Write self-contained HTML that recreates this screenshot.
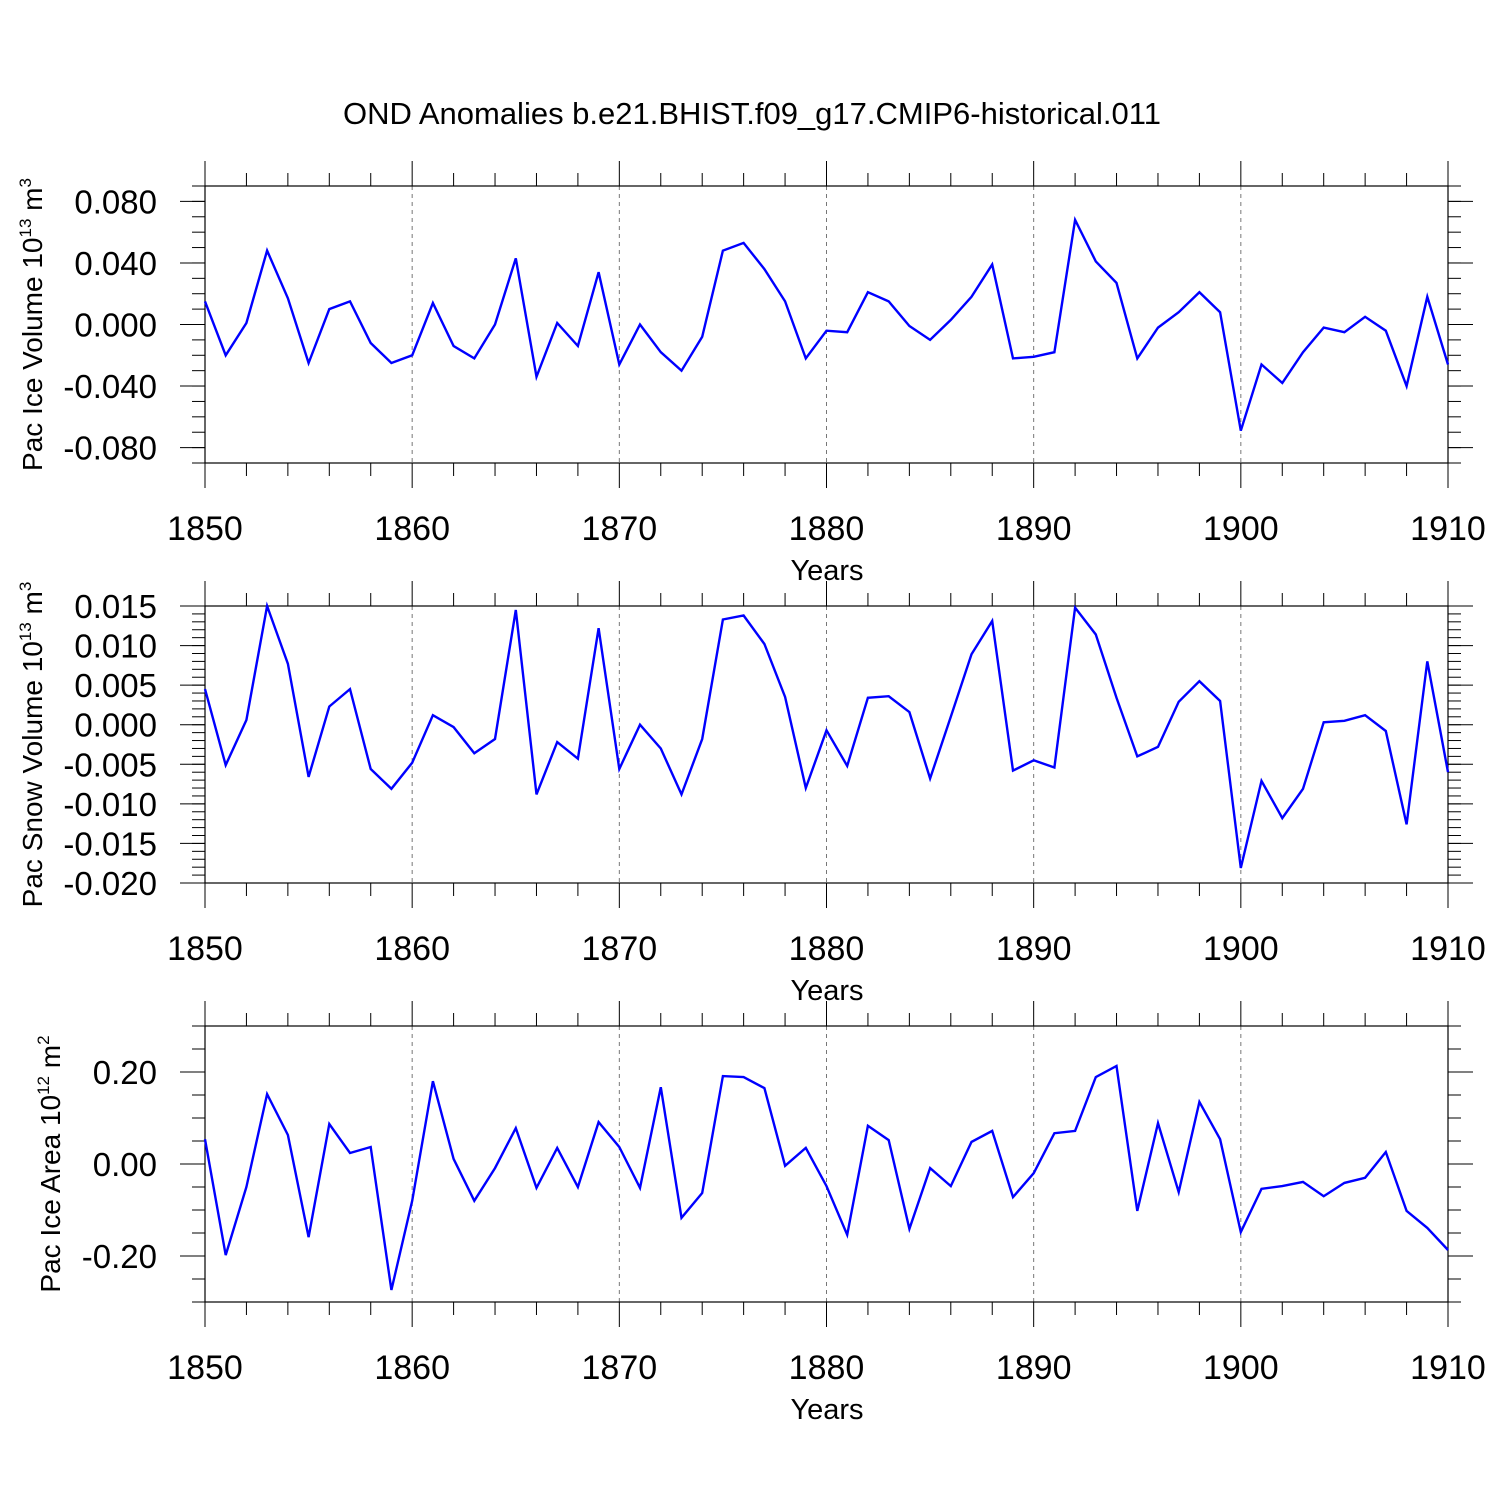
<!DOCTYPE html>
<html><head><meta charset="utf-8"><style>
html,body{margin:0;padding:0;background:#fff;}
svg{display:block;font-family:"Liberation Sans",Arial,sans-serif;}
</style></head><body>
<svg id="chart" width="1500" height="1500" xmlns="http://www.w3.org/2000/svg">
<rect width="1500" height="1500" fill="#fff"/>
<text x="752" y="124" font-size="31" text-anchor="middle">OND Anomalies b.e21.BHIST.f09_g17.CMIP6-historical.011</text>
</svg>
<script>
const years = [];
for (let y = 1850; y <= 1910; y++) years.push(y);
const iceVolume = [0.015,-0.020,0.001,0.048,0.017,-0.025,0.010,0.015,-0.012,-0.025,-0.020,0.014,-0.014,-0.022,0.000,0.043,-0.034,0.001,-0.014,0.034,-0.026,0.000,-0.018,-0.030,-0.008,0.048,0.053,0.036,0.015,-0.022,-0.004,-0.005,0.021,0.015,-0.001,-0.010,0.003,0.018,0.039,-0.022,-0.021,-0.018,0.068,0.041,0.027,-0.022,-0.002,0.008,0.021,0.008,-0.069,-0.026,-0.038,-0.018,-0.002,-0.005,0.005,-0.004,-0.040,0.018,-0.026];
const snowVolume = [0.0045,-0.0051,0.0006,0.0150,0.0077,-0.0066,0.0023,0.0045,-0.0056,-0.0081,-0.0048,0.0012,-0.0003,-0.0036,-0.0018,0.0145,-0.0088,-0.0022,-0.0043,0.0122,-0.0056,0.0000,-0.0030,-0.0088,-0.0018,0.0133,0.0138,0.0102,0.0035,-0.0080,-0.0007,-0.0052,0.0034,0.0036,0.0016,-0.0068,0.0010,0.0089,0.0131,-0.0058,-0.0045,-0.0054,0.0148,0.0114,0.0034,-0.0040,-0.0028,0.0029,0.0055,0.0030,-0.0181,-0.0071,-0.0118,-0.0081,0.0003,0.0005,0.0012,-0.0008,-0.0126,0.0080,-0.0060];
const iceArea = [0.054,-0.198,-0.050,0.152,0.063,-0.159,0.087,0.024,0.037,-0.274,-0.080,0.180,0.011,-0.080,-0.009,0.078,-0.052,0.035,-0.050,0.091,0.037,-0.052,0.167,-0.117,-0.063,0.191,0.189,0.165,-0.004,0.035,-0.048,-0.154,0.083,0.052,-0.141,-0.009,-0.048,0.048,0.072,-0.072,-0.020,0.067,0.072,0.189,0.213,-0.102,0.089,-0.061,0.135,0.054,-0.148,-0.054,-0.048,-0.039,-0.070,-0.041,-0.030,0.026,-0.102,-0.139,-0.187];
const xTickLabels = ["1850","1860","1870","1880","1890","1900","1910"];
const iceVolTicks = ["0.080","0.040","0.000","-0.040","-0.080"];
const snowTicks = ["0.015","0.010","0.005","0.000","-0.005","-0.010","-0.015","-0.020"];
const areaTicks = ["0.20","0.00","-0.20"];

const NS = "http://www.w3.org/2000/svg";
const svg = document.getElementById("chart");
const X0 = 205, X1 = 1448;
function xScale(yr){ return X0 + (yr - 1850) / 60 * (X1 - X0); }
function mk(tag, attrs, parent){
  const e = document.createElementNS(NS, tag);
  for (const k in attrs) e.setAttribute(k, attrs[k]);
  (parent || svg).appendChild(e);
  return e;
}
function panel(p){
  const g = mk("g", {});
  
  
  const yScale = v => p.top + (p.ymax - v) / (p.ymax - p.ymin) * (p.bot - p.top);
  for (let yr = 1860; yr <= 1900; yr += 10) {
    const l = mk("line", {x1:xScale(yr), x2:xScale(yr), y1:p.top, y2:p.bot, stroke:"#777", "stroke-width":1, "stroke-dasharray":"4,4"}, g);
    
    
  }
  for (let yr = 1850; yr <= 1910; yr += 2) {
    const major = (yr % 10 === 0);
    const len = major ? 25 : 13;
    mk("line", {x1:xScale(yr), x2:xScale(yr), y1:p.top, y2:p.top - len, stroke:"#000", "stroke-width":1}, g);
    mk("line", {x1:xScale(yr), x2:xScale(yr), y1:p.bot, y2:p.bot + len, stroke:"#000", "stroke-width":1}, g);
  }
  xTickLabels.forEach(s => {
    const t = mk("text", {x:xScale(+s), y:p.bot + 77, "font-size":34, "text-anchor":"middle"}, g);
    t.textContent = s;
    
    
  });
  const xt = mk("text", {x:827, y:p.bot + 117, "font-size":29, "text-anchor":"middle"}, g);
  xt.textContent = "Years";
  
  
  const nMin = Math.round((p.ymax - p.ymin) / p.minor);
  for (let i = 0; i <= nMin; i++) {
    const v = p.ymin + i * p.minor;
    const y = yScale(v);
    mk("line", {x1:X0, x2:X0 - 13, y1:y, y2:y, stroke:"#000", "stroke-width":1}, g);
    mk("line", {x1:X1, x2:X1 + 13, y1:y, y2:y, stroke:"#000", "stroke-width":1}, g);
  }
  p.ticks.forEach(s => {
    const y = yScale(parseFloat(s));
    mk("line", {x1:X0, x2:X0 - 25, y1:y, y2:y, stroke:"#000", "stroke-width":1}, g);
    mk("line", {x1:X1, x2:X1 + 25, y1:y, y2:y, stroke:"#000", "stroke-width":1}, g);
    const t = mk("text", {x:157, y:y + 12, "font-size":33, "text-anchor":"end"}, g);
    t.textContent = s;
    
    
  });
  mk("rect", {x:X0, y:p.top, width:X1 - X0, height:p.bot - p.top, fill:"none", stroke:"#000", "stroke-width":1.2}, g);
  const cy = (p.top + p.bot) / 2;
  const yt = mk("text", {x:0, y:0, "font-size":28, "text-anchor":"middle", transform:`translate(${p.lx},${cy}) rotate(-90)`}, g);
  yt.innerHTML = p.label;
  
  
  const pts = p.data.map((v, i) => xScale(years[i]).toFixed(1) + "," + yScale(v).toFixed(1)).join(" ");
  const pl = mk("polyline", {points:pts, fill:"none", stroke:"#0000ff", "stroke-width":2.4, "stroke-linejoin":"miter"}, g);
  
  
}
panel({name:"ice-volume-panel", top:186, bot:463, ymax:0.09, ymin:-0.09, minor:0.01, ticks:iceVolTicks, data:iceVolume, lx:42,
  label:'Pac Ice Volume 10<tspan font-size="17" dy="-11">13</tspan><tspan dy="11"> m</tspan><tspan font-size="17" dy="-11">3</tspan>'});
panel({name:"snow-volume-panel", top:606, bot:883, ymax:0.015, ymin:-0.020, minor:0.001, ticks:snowTicks, data:snowVolume, lx:42,
  label:'Pac Snow Volume 10<tspan font-size="17" dy="-11">13</tspan><tspan dy="11"> m</tspan><tspan font-size="17" dy="-11">3</tspan>'});
panel({name:"ice-area-panel", top:1026, bot:1302, ymax:0.3, ymin:-0.3, minor:0.05, ticks:areaTicks, data:iceArea, lx:60,
  label:'Pac Ice Area 10<tspan font-size="17" dy="-11">12</tspan><tspan dy="11"> m</tspan><tspan font-size="17" dy="-11">2</tspan>'});
</script>
</body></html>
